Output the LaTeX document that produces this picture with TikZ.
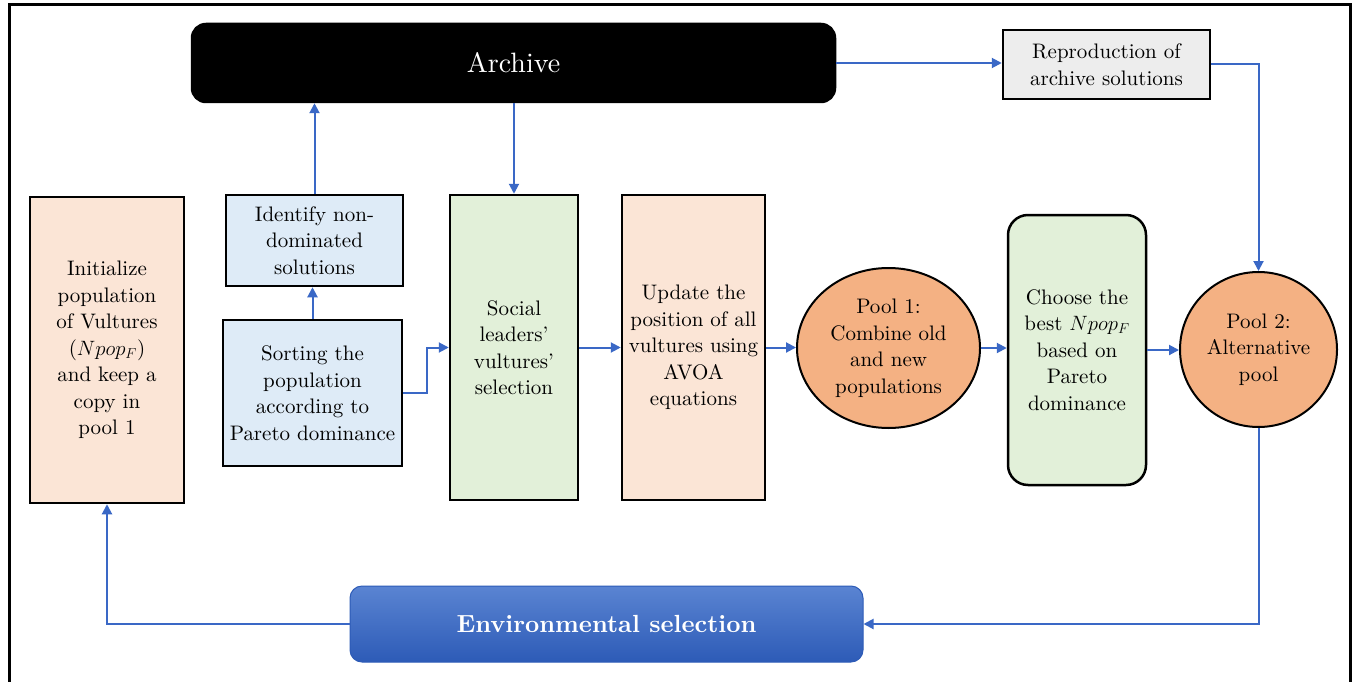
\documentclass[tikz,border=0pt]{standalone}
\usepackage{fontspec}
\setmainfont{lmroman10-regular.otf}[BoldFont=lmroman10-bold.otf, ItalicFont=lmroman10-italic.otf]
\usetikzlibrary{arrows.meta,shapes.geometric}
\definecolor{peach}{HTML}{FBE5D6}
\definecolor{lblue}{HTML}{DEEBF7}
\definecolor{lgreen}{HTML}{E2F0D9}
\definecolor{lgray}{HTML}{EDEDED}
\definecolor{poolor}{HTML}{F4B183}
\definecolor{arrblue}{HTML}{3A68C6}
\definecolor{envtop}{HTML}{5A84D2}
\definecolor{envbot}{HTML}{2D5BB7}
\tikzset{
  base/.style={draw=black, line width=2.5pt, align=center, inner sep=0pt,
    font=\fontsize{21}{26.5}\selectfont, text=black},
  boxpeach/.style={base, fill=peach},
  boxblue/.style={base, fill=lblue},
  boxgreen/.style={base, fill=lgreen},
  boxgray/.style={base, fill=lgray},
  pool/.style={base, ellipse, line width=2pt, fill=poolor},
  conn/.style={draw=arrblue, line width=2pt, -{Triangle[length=10pt,width=10pt]}},
}
\begin{document}
\begin{tikzpicture}[x=1pt,y=-1pt]
\useasboundingbox (0,0) rectangle (1356,682);
\fill[white] (0,0) rectangle (1356,682);
\draw[line width=3pt] (9,682) -- (9,5) -- (1350,5) -- (1350,682);

\node[base, fill=black, rounded corners=14pt, minimum width=643pt, minimum height=78pt,
  text=white, font=\fontsize{28}{32}\selectfont] (archive) at (513.5,63) {Archive};
\node[boxgray, minimum width=207pt, minimum height=69pt] (repro) at (1106.5,64.5)
  {Reproduction of\\archive solutions};
\node[boxpeach, minimum width=154pt, minimum height=306pt] (init) at (107,350)
  {Initialize\\population\\of Vultures\\($Npop_F$)\\and keep a\\copy in\\pool 1};
\node[boxblue, minimum width=177pt, minimum height=91pt] (ident) at (314.5,240.5)
  {Identify non-\\dominated\\solutions};
\node[boxblue, minimum width=179pt, minimum height=146pt] (sort) at (312.5,393)
  {Sorting the\\population\\according to\\Pareto dominance};
\node[boxgreen, minimum width=128pt, minimum height=305pt] (social) at (514,347.5)
  {Social\\leaders’\\vultures’\\selection};
\node[boxpeach, minimum width=143pt, minimum height=305pt] (update) at (693.5,347.5)
  {Update the\\position of all\\vultures using\\AVOA\\equations};
\node[pool, minimum width=183pt, minimum height=160pt] (pool1) at (888.5,348)
  {Pool 1:\\Combine old\\and new\\populations};
\node[boxgreen, rounded corners=20pt, minimum width=138pt, minimum height=270pt] (choose) at (1077,350)
  {Choose the\\best $Npop_F$\\based on\\Pareto\\dominance};
\node[pool, minimum width=157pt, minimum height=155pt] (pool2) at (1258.5,349.5)
  {Pool 2:\\Alternative\\pool};
\node[draw=envbot, line width=1pt, rounded corners=12pt, top color=envtop, bottom color=envbot,
  minimum width=513pt, minimum height=76pt, inner sep=0pt, text=white,
  font=\fontsize{24.8}{30}\selectfont\bfseries] (env) at (606.5,624) {Environmental selection};

\draw[conn] (ident.north) -- (ident.north |- archive.south);
\draw[conn] (sort.north) -- (sort.north |- ident.south);
\draw[conn] (archive.south -| social.north) -- (social.north);
\draw[conn] (sort.east) -- ++(24,0) |- (social.west);
\draw[conn] (social.east) -- (update.west);
\draw[conn] (update.east) -- (update.east -| pool1.west);
\draw[conn] (pool1.east) -- (pool1.east -| choose.west);
\draw[conn] (choose.east) -- (choose.east -| pool2.west);
\draw[conn] (archive.east) -- (archive.east -| repro.west);
\draw[conn] (repro.east) -| (pool2.north);
\draw[conn] (pool2.south) |- (env.east);
\draw[conn] (env.west) -| (init.south);
\end{tikzpicture}
\end{document}
